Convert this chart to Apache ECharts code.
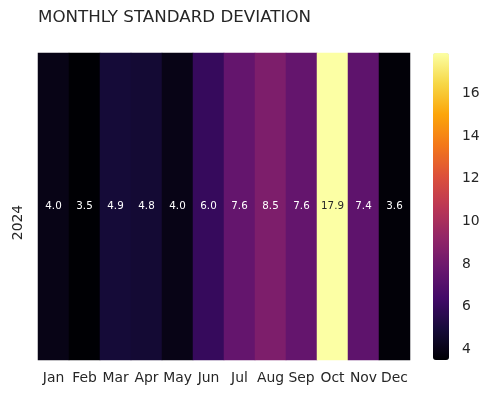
<!DOCTYPE html>
<html>
<head>
<meta charset="utf-8">
<script src="https://cdn.jsdelivr.net/npm/echarts@6/dist/echarts.min.js"></script>
<style>
  html, body { margin: 0; padding: 0; background: #fff; }
  #chart { width: 491px; height: 399px; }
</style>
</head>
<body>
<div id="chart"></div>
<script>
// data
const months = ['Jan', 'Feb', 'Mar', 'Apr', 'May', 'Jun', 'Jul', 'Aug', 'Sep', 'Oct', 'Nov', 'Dec'];
const years = ['2024'];
const stdValues = [4.0, 3.5, 4.9, 4.8, 4.0, 6.0, 7.6, 8.5, 7.6, 17.9, 7.4, 3.6];
const colorbarTicks = [4, 6, 8, 10, 12, 14, 16];

// inferno colormap
const inferno = ['#000004', '#160b39', '#420a68', '#6a176e', '#932667', '#bc3754',
  '#dd513a', '#f37819', '#fca50a', '#f6d746', '#fcffa4'];

const vMin = 3.5;
const vMax = 17.9;
const font = 'DejaVu Sans';
const textColor = '#262626';

const cells = stdValues.map((v, i) => ({
  value: [i, 0, v],
  // dark annotation text on light cells
  label: { color: (v - vMin) / (vMax - vMin) > 0.6 ? '#262626' : '#ffffff' }
}));

const chart = echarts.init(document.getElementById('chart'), null, { renderer: 'canvas' });

chart.setOption({
  animation: false,
  textStyle: { fontFamily: font },
  title: {
    text: 'MONTHLY STANDARD DEVIATION',
    left: 38,
    top: 9,
    padding: 0,
    textStyle: { fontFamily: font, fontSize: 16.7, fontWeight: 'normal', color: textColor }
  },
  grid: [
    { left: 38, top: 53, width: 372, height: 307 },
    { left: 433, top: 53, width: 16, height: 307 }
  ],
  xAxis: [{
    type: 'category',
    data: months,
    gridIndex: 0,
    axisLine: { show: false },
    axisTick: { show: false },
    axisLabel: { fontFamily: font, fontSize: 13.9, color: textColor, margin: 11, interval: 0 },
    splitLine: { show: false }
  }, {
    type: 'value',
    gridIndex: 1,
    show: false
  }],
  yAxis: [{
    type: 'category',
    data: years,
    gridIndex: 0,
    axisLine: { show: false },
    axisTick: { show: false },
    axisLabel: {
      fontFamily: font, fontSize: 13.9, color: textColor, rotate: 90, margin: 13,
      padding: [0, 32, 0, 0]
    },
    splitLine: { show: false }
  }, {
    type: 'value',
    gridIndex: 1,
    position: 'right',
    min: vMin,
    max: vMax,
    axisLine: { show: false },
    axisTick: {
      show: true, length: 7, customValues: colorbarTicks,
      lineStyle: { color: textColor, width: 1.2 }
    },
    axisLabel: {
      fontFamily: font, fontSize: 13.9, color: textColor, margin: 13,
      customValues: colorbarTicks
    },
    splitLine: { show: false }
  }],
  visualMap: {
    type: 'continuous',
    min: vMin,
    max: vMax,
    seriesIndex: 0,
    calculable: false,
    showLabel: false,
    text: null,
    left: 433,
    top: 53,
    padding: 0,
    itemWidth: 16,
    itemHeight: 307,
    inRange: { color: inferno }
  },
  series: [{
    type: 'heatmap',
    xAxisIndex: 0,
    yAxisIndex: 0,
    data: cells,
    label: {
      show: true,
      fontFamily: font,
      fontSize: 10.3,
      formatter: p => p.value[2].toFixed(1)
    },
    itemStyle: { borderWidth: 0 },
    emphasis: { disabled: true }
  }]
});
</script>
</body>
</html>
